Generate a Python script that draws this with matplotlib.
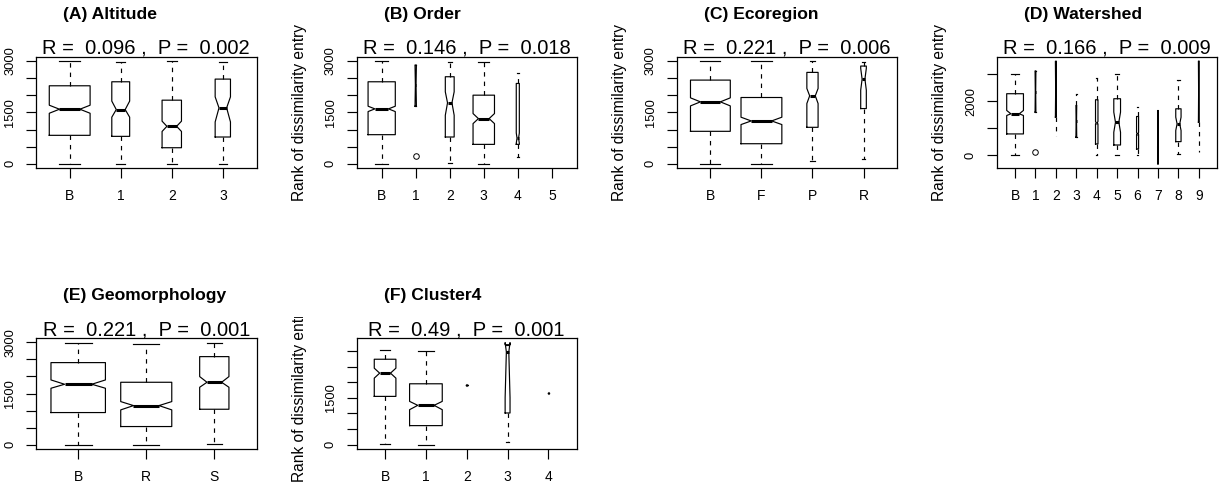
import matplotlib
matplotlib.use("Agg")
import matplotlib.pyplot as plt
from matplotlib.transforms import Bbox, TransformedBbox

plt.rcParams['font.family'] = ['Liberation Sans', 'DejaVu Sans']
plt.rcParams['lines.scale_dashes'] = False

W, H, DPI = 1219, 488, 100

# each row: whislo, q1, cilo, med, cihi, q3, whishi, box width
altitude_names = ['B', '1', '2', '3']
altitude_stats = [
    (0, 831, 1475, 1593, 1710, 2277, 3000, 0.80),
    (0, 801, 1360, 1583, 1830, 2394, 2980, 0.35),
    (0, 469, 944, 1094, 1244, 1857, 3000, 0.38),
    (0, 782, 1221, 1632, 1954, 2472, 2961, 0.30),
]
altitude_out = [[], [], [], []]

order_names = ['B', '1', '2', '3', '4', '5']
order_stats = [
    (0, 850, 1524, 1603, 1681, 2394, 3000, 0.80),
    (1681, 1681, 1681, 2300, 2883, 2883, 2883, 0.04),
    (29, 782, 1417, 1779, 2101, 2541, 2980, 0.26),
    (0, 567, 1173, 1319, 1466, 2003, 2980, 0.63),
    (195, 567, 600, 750, 900, 2345, 2638, 0.09),
    None,
]
order_out = [[], [235], [], [], [], []]

ecoregion_names = ['B', 'F', 'P', 'R']
ecoregion_stats = [
    (0, 948, 1690, 1808, 1925, 2443, 3000, 0.78),
    (0, 586, 1145, 1251, 1360, 1935, 3000, 0.80),
    (78, 1065, 1759, 1984, 2199, 2668, 3000, 0.22),
    (127, 1612, 2150, 2472, 2785, 2853, 2980, 0.11),
]
ecoregion_out = [[], [], [], []]

watershed_names = ['B', '1', '2', '3', '4', '5', '6', '7', '8', '9']
watershed_stats = [
    (0, 784, 1469, 1531, 1656, 2278, 3000, 0.82),
    (1594, 1594, 1594, 2360, 3125, 3125, 3125, 0.04),
    (722, 1407, 1407, 2450, 3486, 3486, 3486, 0.05),
    (660, 660, 660, 1250, 1843, 1843, 2278, 0.04),
    (0, 411, 1150, 1200, 1250, 2054, 2864, 0.12),
    (0, 373, 847, 1220, 1594, 2092, 3000, 0.33),
    (0, 224, 760, 800, 840, 1432, 1780, 0.10),
    (300, 300, -336, 660, 1656, 1000, 1000, 0.04),
    (37, 498, 909, 1158, 1407, 1718, 2776, 0.26),
    (100, 1220, 1220, 2370, 3490, 3490, 3490, 0.04),
]
watershed_out = [[], [130], [], [], [], [], [], [], [], []]

geomorph_names = ['B', 'R', 'S']
geomorph_stats = [
    (0, 945, 1656, 1773, 1899, 2406, 2990, 0.80),
    (0, 536, 1023, 1149, 1266, 1831, 2941, 0.75),
    (19, 1042, 1685, 1831, 1997, 2581, 2990, 0.43),
]
geomorph_out = [[], [], []]

cluster_names = ['B', '1', '2', '3', '4']
cluster_stats = [
    (21, 1543, 2128, 2288, 2447, 2734, 3032, 0.53),
    (0, 606, 1117, 1256, 1383, 1947, 3011, 0.80),
    (1915, 1915, 1915, 1915, 1915, 1915, 1915, 0.04),
    (74, 1011, 1500, 2969, 3266, 3200, 3200, 0.12),
    (1649, 1649, 1649, 1649, 1649, 1649, 1649, 0.04),
]
cluster_out = [[], [], [], [], []]

titles = ['(A) Altitude', '(B) Order', '(C) Ecoregion', '(D) Watershed',
          '(E) Geomorphology', '(F) Cluster4']
r_vals = ['0.096', '0.146', '0.221', '0.166', '0.221', '0.49']
p_vals = ['0.002', '0.018', '0.006', '0.009', '0.001', '0.001']

fig = plt.figure(figsize=(W / DPI, H / DPI), dpi=DPI)
fig.patch.set_facecolor('white')

box_w, box_h = 220.5, 110.5
col_left = [36, 356.5, 676.7, 996.7]
row_top = [57, 338.3]


def panel(i, col, row, names, stats, outs, ylim, yticks, ylabels,
          show_ylab=True, clip_top=None):
    left, top = col_left[col], row_top[row]
    ax = fig.add_axes([left / W, 1 - (top + box_h) / H, box_w / W, box_h / H])
    n = len(names)
    bx, pos, wid = [], [], []
    for k, s in enumerate(stats):
        if s is None:
            continue
        lo, q1, cilo, med, cihi, q3, hi, w = s
        bx.append(dict(whislo=lo, q1=q1, cilo=cilo, med=med, cihi=cihi,
                       q3=q3, whishi=hi, fliers=outs[k]))
        pos.append(k + 1)
        wid.append(w)
    ax.bxp(bx, pos, widths=wid, shownotches=True, showfliers=True,
           manage_ticks=False,
           boxprops=dict(color='black', lw=0.85),
           whiskerprops=dict(color='black', lw=0.85, linestyle=(0, (3.2, 3.6))),
           capprops=dict(color='black', lw=0.85),
           medianprops=dict(color='black', lw=2.2, solid_capstyle='butt'),
           flierprops=dict(marker='o', markerfacecolor='none',
                           markeredgecolor='black', markersize=4,
                           markeredgewidth=0.7))
    ax.set_xlim(0.5 - 0.04 * n, n + 0.5 + 0.04 * n)
    ax.set_ylim(*ylim)
    ax.set_xticks(range(1, n + 1))
    ax.set_xticklabels(names, fontsize=10)
    ax.set_yticks(yticks)
    ax.set_yticklabels(ylabels, fontsize=9.3, rotation=90, va='center')
    ax.tick_params(axis='x', length=7, width=0.85, pad=8.5)
    ax.tick_params(axis='y', length=7, width=0.85, pad=7.2)
    for sp in ax.spines.values():
        sp.set_linewidth(0.9)

    fig.text((left + 27) / W, 1 - (top - 42.5) / H, titles[i],
             fontsize=12.6, fontweight='bold', ha='left', va='center')
    fig.text((left + box_w / 2) / W, 1 - (top - 3) / H,
             'R =  ' + r_vals[i] + ' ,  P =  ' + p_vals[i],
             fontsize=14.5, ha='center', va='baseline')
    if show_ylab:
        yl = fig.text((left - 57) / W, 1 - (top + box_h / 2) / H,
                      'Rank of dissimilarity entry', fontsize=11.2,
                      rotation=90, ha='center', va='center')
        if clip_top is not None:
            yl.set_clip_box(TransformedBbox(Bbox([[0, 0], [1, 1 - clip_top / H]]),
                                            fig.transFigure))
            yl.set_clip_on(True)
    return ax


t500 = [0, 500, 1000, 1500, 2000, 2500, 3000]
lab_a = ['0', '', '', '1500', '', '', '3000']
lab_f = ['0', '', '', '1500', '', '', '']

# left column's axis titles fall outside the picture in the reference
panel(0, 0, 0, altitude_names, altitude_stats, altitude_out, (-108, 3117), t500, lab_a,
      show_ylab=False)
panel(1, 1, 0, order_names, order_stats, order_out, (-108, 3117), t500, lab_a)
panel(2, 2, 0, ecoregion_names, ecoregion_stats, ecoregion_out, (-108, 3117), t500, lab_a)
panel(3, 3, 0, watershed_names, watershed_stats, watershed_out, (-463, 3642),
      [0, 1000, 2000, 3000], ['0', '', '2000', ''])
panel(4, 0, 1, geomorph_names, geomorph_stats, geomorph_out, (-115, 3117), t500, lab_a,
      show_ylab=False)
panel(5, 1, 1, cluster_names, cluster_stats, cluster_out, (-137, 3405), t500, lab_f,
      clip_top=317)

fig.savefig('out.png', dpi=DPI, facecolor='white')
